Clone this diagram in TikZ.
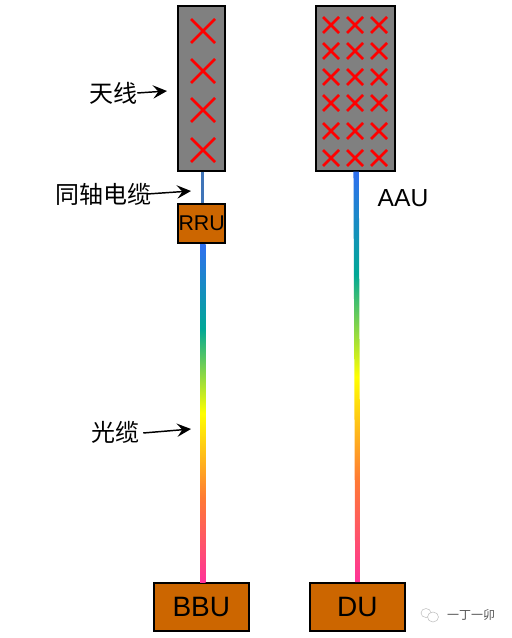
\documentclass[tikz,border=0pt]{standalone}
\usepackage{fontspec}
\setmainfont{Liberation Sans}
\newfontfamily\cjk{Noto Sans CJK SC}
\usetikzlibrary{arrows.meta, positioning, calc}
\definecolor{Panel}{HTML}{808080}
\definecolor{Unit}{HTML}{CC6600}
\definecolor{Feeder}{HTML}{3F74B8}
\definecolor{Mark}{HTML}{555555}
\definecolor{HotPink}{HTML}{FF3399}
\definecolor{Amber}{HTML}{FF7A33}
\definecolor{Teal}{HTML}{00A896}
\definecolor{Sky}{HTML}{2F6FF0}
\pgfdeclareverticalshading{fibre}{100bp}{
  color(0bp)=(HotPink);
  color(25bp)=(HotPink);
  color(37.5bp)=(Amber);
  color(50bp)=(yellow);
  color(62.5bp)=(Teal);
  color(75bp)=(Sky);
  color(100bp)=(Sky)}
\newcommand{\fibre}[3]{%
  \shade[shading=fibre] ($(#1)+(-#3,0)$) -- ($(#1)+(#3,0)$)
    -- ($(#2)+(#3,0)$) -- ($(#2)+(-#3,0)$) -- cycle;}

\begin{document}
\begin{tikzpicture}[
  x=0.75pt, y=-0.75pt,
  every node/.style={font=\Large, inner sep=0pt},
  panel/.style={draw, line width=1.5pt, fill=Panel},
  ubox/.style={draw, line width=1.5pt, fill=Unit, anchor=north west},
  xmark/.style={draw=red, line width=#1},
  xmark/.default=1.5pt,
  lbl/.style={font=\cjk\fontsize{18}{18}\selectfont},
  arr/.style={-{Stealth[length=10.5pt,width=10pt,inset=4pt]}, line width=1.1pt},
]
  \useasboundingbox (0,0) rectangle (511,638);

  % panels
  \node[panel, anchor=north west, minimum width=35.5pt, minimum height=123.5pt]
    (ant) at (177,5) {};
  \node[panel, anchor=north west, minimum width=59pt, minimum height=123.5pt]
    (aau) at (315,5) {};

  % units
  \node[ubox, minimum width=35.5pt, minimum height=29.5pt, font=\fontsize{16}{16}\selectfont]
    (rru) at (177,203) {RRU};
  \node[ubox, minimum width=71pt, minimum height=36pt, font=\fontsize{21}{21}\selectfont]
    (bbu) at (153,582) {BBU};
  \node[ubox, minimum width=71pt, minimum height=36pt, font=\fontsize{21}{21}\selectfont]
    (du) at (309,582) {DU};

  % cable ends
  \coordinate (feedtop) at ($(ant.south)+(1,0)$);
  \coordinate (fibtop) at ($(rru.south)+(1.2,0)$);
  \coordinate (fibbot) at (fibtop |- bbu.north);
  \coordinate (aautop) at ($(aau.south)+(0.8,0)$);
  \coordinate (dutop) at ($(du.north)+(0.5,0)$);

  % cables
  \draw[Feeder, line width=2.25pt] (feedtop) -- (feedtop |- rru.north);
  \fibre{fibtop}{fibbot}{2pt}
  \fibre{aautop}{dutop}{2pt}

  % crosses
  \foreach \y in {31,71,110,150}
    \draw[xmark=2pt] (191,\y-12) -- (215,\y+12) (215,\y-12) -- (191,\y+12);
  \foreach \y in {25,51,77,103,131,158}
    \foreach \x in {331,355,379}
      \draw[xmark=2pt] (\x-8,\y-8) -- (\x+8,\y+8) (\x+8,\y-8) -- (\x-8,\y+8);

  % labels
  \node[lbl] (tx) at (113,93) {天线};
  \node[lbl] (cable) at (103,194) {同轴电缆};
  \node[lbl] (fiber) at (115,432) {光缆};
  \node[font=\fontsize{18.5}{18.5}\selectfont] (name) at (403,198) {AAU};

  \coordinate (txtip) at (167,91);
  \coordinate (cabletip) at (191,191);
  \coordinate (fibertip) at (191,429);
  \draw[arr] (tx.east) -- (txtip);
  \draw[arr] ($(cable.east)+(-4,0)$) -- (cabletip);
  \draw[arr] ($(fiber.east)+(4,1)$) -- (fibertip);

  % watermark
  \node[font=\cjk\fontsize{9}{9}\selectfont, text=Mark] (mark) at (471,615) {一丁一卯};
  \draw[gray!50, line width=0.4pt] (426,613) ellipse (5 and 4.5);
  \draw[gray!50, line width=0.4pt, fill=white] (433,617) ellipse (5.5 and 5);
\end{tikzpicture}
\end{document}
